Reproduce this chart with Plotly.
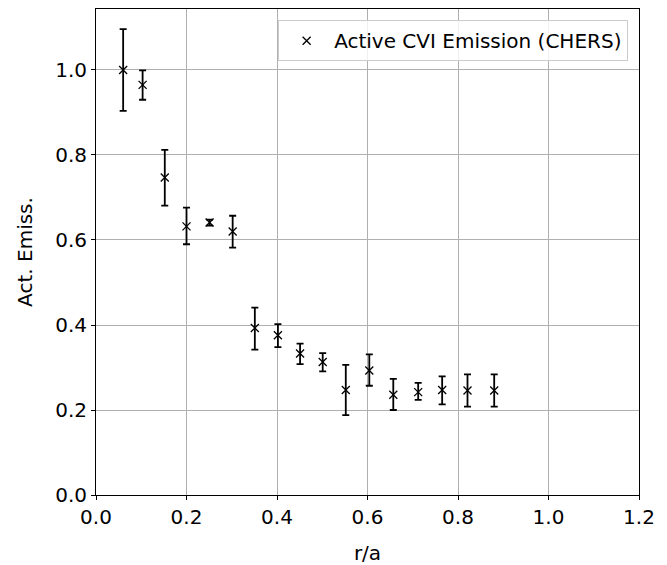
import plotly.graph_objects as go

r_a = [0.060, 0.103, 0.152, 0.200, 0.251, 0.302, 0.351, 0.402, 0.451, 0.501,
       0.552, 0.604, 0.657, 0.712, 0.765, 0.821, 0.880]
emiss = [1.000, 0.965, 0.747, 0.632, 0.641, 0.620, 0.393, 0.376, 0.333, 0.313,
         0.247, 0.293, 0.236, 0.242, 0.247, 0.246, 0.246]
err_up = [0.096, 0.034, 0.065, 0.044, 0.007, 0.037, 0.048, 0.026, 0.023, 0.021,
          0.059, 0.038, 0.037, 0.022, 0.032, 0.038, 0.038]
err_dn = [0.096, 0.035, 0.066, 0.042, 0.007, 0.038, 0.051, 0.028, 0.025, 0.022,
          0.059, 0.036, 0.036, 0.018, 0.034, 0.038, 0.038]

x_ticks = [0.0, 0.2, 0.4, 0.6, 0.8, 1.0, 1.2]
y_ticks = [0.0, 0.2, 0.4, 0.6, 0.8, 1.0]

font = "DejaVu Sans"
fs = 20

fig = go.Figure()
fig.add_trace(go.Scatter(
    x=r_a, y=emiss, mode="markers",
    name="Active CVI Emission (CHERS)",
    marker=dict(symbol="x-thin", size=8, color="black",
                line=dict(color="black", width=1.3)),
    error_y=dict(type="data", symmetric=False, array=err_up, arrayminus=err_dn,
                 color="black", thickness=1.8, width=3.5),
))

axis_common = dict(
    showgrid=True, gridcolor="#b0b0b0", gridwidth=0.8,
    showline=True, linecolor="black", linewidth=1, mirror=True,
    ticks="outside", ticklen=4, tickcolor="black", tickwidth=1,
    zeroline=False,
    tickfont=dict(family=font, size=fs, color="black"),
)

fig.update_layout(
    width=659, height=557,
    margin=dict(l=88, r=28, t=1, b=70),
    plot_bgcolor="white", paper_bgcolor="white",
    font=dict(family=font, size=fs, color="black"),
    xaxis=dict(range=[0, 1.2], tickvals=x_ticks,
               ticktext=[f"{v:.1f}" for v in x_ticks],
               title=dict(text="r/a", font=dict(family=font, size=fs), standoff=21),
               **axis_common),
    yaxis=dict(range=[0, 1.1435], tickvals=y_ticks,
               ticktext=[f"{v:.1f}" for v in y_ticks],
               title=dict(text="Act. Emiss.", font=dict(family=font, size=fs), standoff=17),
               **axis_common),
    showlegend=True,
    legend=dict(x=0.98, y=0.977, xanchor="right", yanchor="top",
                itemwidth=45,
                bgcolor="rgba(255,255,255,0.8)", bordercolor="#cccccc", borderwidth=1,
                font=dict(family=font, size=fs, color="black")),
)

fig.write_html("out.html")
